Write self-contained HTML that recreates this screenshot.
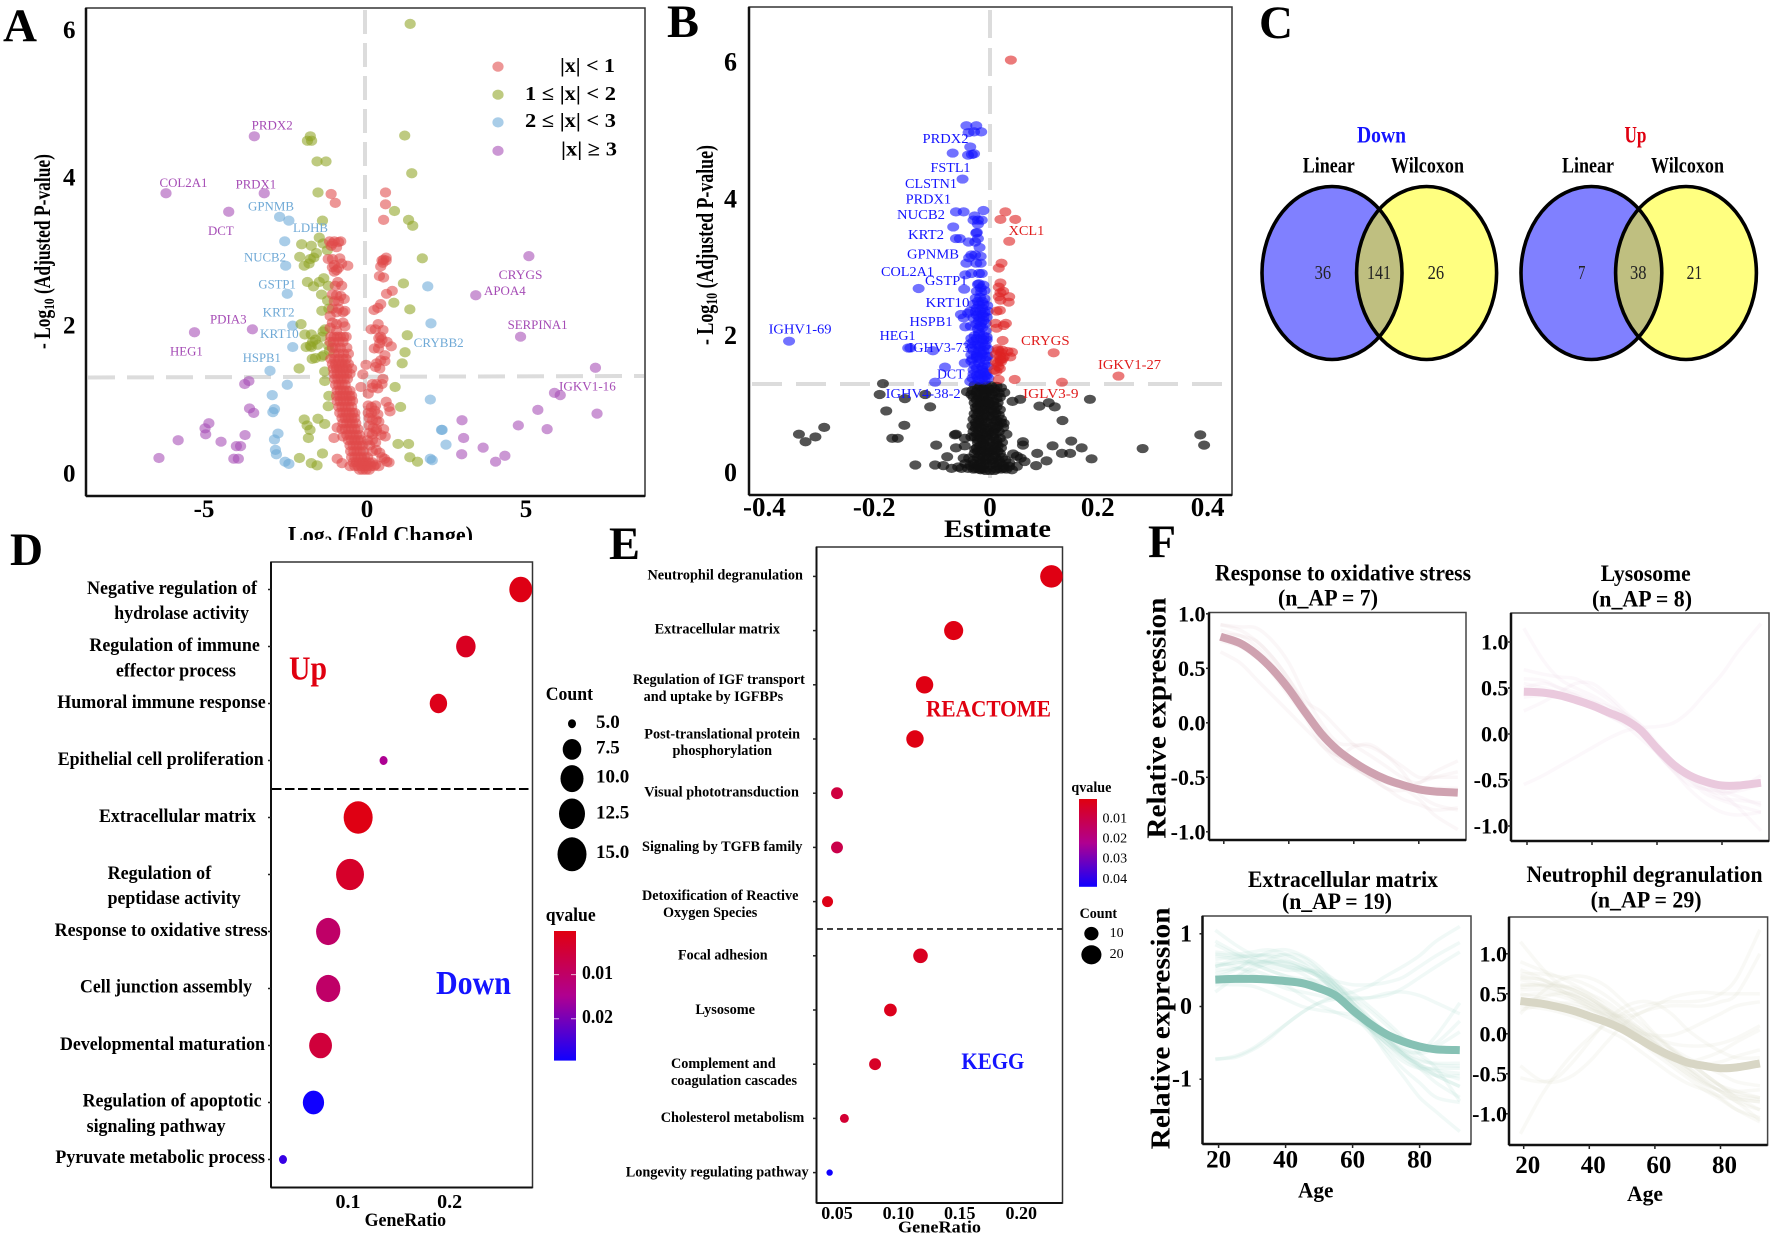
<!DOCTYPE html>
<html lang="en">
<head>
<meta charset="utf-8">
<title>Proteomic ageing figure panels A-F</title>
<style>
html,body{margin:0;padding:0;background:#fff;}
svg{display:block;}
text{font-family:"Liberation Serif","Noto Serif CJK SC",serif;fill:#000;}
.b{font-weight:700;}
.letter{font-weight:700;font-size:47px;}
.ga{font-size:12.5px;}
.gb{font-size:13.5px;}
.pu{fill:#a54bb5;}
.lb{fill:#6fa9d6;}
.bl{fill:#1414ff;}
.rd{fill:#e01b1b;}
.dl{font-weight:700;font-size:19px;}
.el{font-weight:700;font-size:14.5px;}
.ft{font-weight:700;font-size:23px;}
</style>
</head>
<body>
<svg id="figure" xmlns="http://www.w3.org/2000/svg" width="1772" height="1236" viewBox="0 0 1772 1236">
<defs>
<clipPath id="clip-log2"><rect x="270" y="515" width="220" height="25"/></clipPath>
<clipPath id="clip-v1"><ellipse cx="1332" cy="273" rx="70" ry="86.5"/></clipPath>
<clipPath id="clip-v2"><ellipse cx="1591.4" cy="273" rx="70.4" ry="86.5"/></clipPath>
<linearGradient id="grad-d" x1="0" y1="0" x2="0" y2="1"><stop offset="0" stop-color="#e00010"/><stop offset=".5" stop-color="#b00090"/><stop offset="1" stop-color="#1000ff"/></linearGradient>
<linearGradient id="grad-e" x1="0" y1="0" x2="0" y2="1"><stop offset="0" stop-color="#e00010"/><stop offset=".5" stop-color="#b00090"/><stop offset="1" stop-color="#1000ff"/></linearGradient>
</defs>
<rect x="0" y="0" width="1772" height="1236" fill="#fff"/>

<g>
<text class="letter" x="3" y="41" textLength="34" lengthAdjust="spacingAndGlyphs">A</text>
<text class="letter" x="667" y="37" textLength="32" lengthAdjust="spacingAndGlyphs">B</text>
<text class="letter" x="1259" y="38" textLength="34" lengthAdjust="spacingAndGlyphs">C</text>
<text class="letter" x="10" y="565" textLength="33" lengthAdjust="spacingAndGlyphs">D</text>
<text class="letter" x="609" y="559" textLength="31" lengthAdjust="spacingAndGlyphs">E</text>
<text class="letter" x="1148" y="557" textLength="28" lengthAdjust="spacingAndGlyphs">F</text>
</g>

<!-- Panel A -->
<g id="panel-a">
<rect x="86" y="8" width="559" height="488" fill="none" stroke="#333" stroke-width="1.5"/>
<line x1="86" y1="8" x2="86" y2="496" stroke="#111" stroke-width="2.5"/>
<line x1="86" y1="496" x2="645" y2="496" stroke="#111" stroke-width="2.5"/>
<line x1="365" y1="10" x2="365" y2="470" stroke="#dcdcdc" stroke-width="4" stroke-dasharray="24 9"/>
<line x1="88" y1="377.5" x2="644" y2="376" stroke="#dcdcdc" stroke-width="4" stroke-dasharray="27 12"/>
<g id="a-points"></g>
<g id="a-ticks"></g>
<text class="b" x="0" y="0" font-size="23" transform="translate(50 349) rotate(-90)" textLength="195" lengthAdjust="spacingAndGlyphs">- Log<tspan font-size="15" dy="4">10</tspan><tspan dy="-4"> (Adjusted P-value)</tspan></text>
<g clip-path="url(#clip-log2)">
<text class="b" x="288" y="543" font-size="24" textLength="185" lengthAdjust="spacingAndGlyphs">Log<tspan font-size="16" dy="4">2</tspan><tspan dy="-4"> (Fold Change)</tspan></text>
</g>
<ellipse cx="498" cy="66.6" rx="5.6" ry="5.1" fill="#e04a4a" fill-opacity=".58"/>
<ellipse cx="498" cy="94.7" rx="5.6" ry="5.1" fill="#8fa424" fill-opacity=".58"/>
<ellipse cx="498" cy="122.4" rx="5.6" ry="5.1" fill="#6aa8d8" fill-opacity=".58"/>
<ellipse cx="498" cy="150.8" rx="5.6" ry="5.1" fill="#a54bb5" fill-opacity=".58"/>
<text class="b" x="560" y="72" font-size="20" textLength="55" lengthAdjust="spacingAndGlyphs">|x| &lt; 1</text>
<text class="b" x="525" y="100" font-size="20" textLength="91" lengthAdjust="spacingAndGlyphs">1 ≤ |x| &lt; 2</text>
<text class="b" x="525" y="127" font-size="20" textLength="91" lengthAdjust="spacingAndGlyphs">2 ≤ |x| &lt; 3</text>
<text class="b" x="561" y="155.7" font-size="20" textLength="56" lengthAdjust="spacingAndGlyphs">|x| ≥ 3</text>
<g>
<text class="ga pu" x="251.7" y="129.4" textLength="41" lengthAdjust="spacingAndGlyphs">PRDX2</text>
<text class="ga pu" x="159.5" y="187" textLength="48" lengthAdjust="spacingAndGlyphs">COL2A1</text>
<text class="ga pu" x="235.7" y="188.4" textLength="40.4" lengthAdjust="spacingAndGlyphs">PRDX1</text>
<text class="ga pu" x="208" y="235" textLength="25.7" lengthAdjust="spacingAndGlyphs">DCT</text>
<text class="ga pu" x="170" y="355.7" textLength="32.8" lengthAdjust="spacingAndGlyphs">HEG1</text>
<text class="ga pu" x="210" y="323.4" textLength="36.6" lengthAdjust="spacingAndGlyphs">PDIA3</text>
<text class="ga pu" x="498.7" y="279" textLength="43.8" lengthAdjust="spacingAndGlyphs">CRYGS</text>
<text class="ga pu" x="484" y="295" textLength="41.7" lengthAdjust="spacingAndGlyphs">APOA4</text>
<text class="ga pu" x="507.6" y="329" textLength="60" lengthAdjust="spacingAndGlyphs">SERPINA1</text>
<text class="ga pu" x="559" y="390.7" textLength="56.8" lengthAdjust="spacingAndGlyphs">IGKV1-16</text>
<text class="ga lb" x="248" y="210.5" textLength="46" lengthAdjust="spacingAndGlyphs">GPNMB</text>
<text class="ga lb" x="293" y="232" textLength="35" lengthAdjust="spacingAndGlyphs">LDHB</text>
<text class="ga lb" x="244" y="261.7" textLength="42" lengthAdjust="spacingAndGlyphs">NUCB2</text>
<text class="ga lb" x="258.4" y="288.7" textLength="37.5" lengthAdjust="spacingAndGlyphs">GSTP1</text>
<text class="ga lb" x="262.6" y="316.4" textLength="32" lengthAdjust="spacingAndGlyphs">KRT2</text>
<text class="ga lb" x="260" y="337.8" textLength="38.7" lengthAdjust="spacingAndGlyphs">KRT10</text>
<text class="ga lb" x="242.8" y="362" textLength="38" lengthAdjust="spacingAndGlyphs">HSPB1</text>
<text class="ga lb" x="413.7" y="347" textLength="50" lengthAdjust="spacingAndGlyphs">CRYBB2</text>
</g>
</g>

<!-- Panel B -->
<g id="panel-b">
<rect x="749" y="7" width="483" height="488" fill="none" stroke="#333" stroke-width="1.5"/>
<line x1="749" y1="7" x2="749" y2="495" stroke="#111" stroke-width="2.5"/>
<line x1="749" y1="495" x2="1232" y2="495" stroke="#111" stroke-width="2.5"/>
<line x1="990" y1="10" x2="990" y2="478" stroke="#dcdcdc" stroke-width="4" stroke-dasharray="28 10"/>
<line x1="752" y1="384" x2="1222" y2="384" stroke="#dcdcdc" stroke-width="4" stroke-dasharray="30 14"/>
<g id="b-points"></g>
<g id="b-ticks"></g>
<text class="b" x="0" y="0" font-size="24" transform="translate(713 345) rotate(-90)" textLength="200" lengthAdjust="spacingAndGlyphs">- Log<tspan font-size="16" dy="4">10</tspan><tspan dy="-4"> (Adjusted P-value)</tspan></text>
<text class="b" x="944" y="537" font-size="25" textLength="107" lengthAdjust="spacingAndGlyphs">Estimate</text>
<g>
<text class="gb bl" x="922.5" y="143" textLength="46" lengthAdjust="spacingAndGlyphs">PRDX2</text>
<text class="gb bl" x="930.5" y="172" textLength="40" lengthAdjust="spacingAndGlyphs">FSTL1</text>
<text class="gb bl" x="905" y="188" textLength="52" lengthAdjust="spacingAndGlyphs">CLSTN1</text>
<text class="gb bl" x="905.6" y="203.4" textLength="45.5" lengthAdjust="spacingAndGlyphs">PRDX1</text>
<text class="gb bl" x="897" y="219" textLength="48" lengthAdjust="spacingAndGlyphs">NUCB2</text>
<text class="gb bl" x="908" y="239" textLength="36" lengthAdjust="spacingAndGlyphs">KRT2</text>
<text class="gb bl" x="907" y="258.5" textLength="52" lengthAdjust="spacingAndGlyphs">GPNMB</text>
<text class="gb bl" x="881" y="276" textLength="53" lengthAdjust="spacingAndGlyphs">COL2A1</text>
<text class="gb bl" x="925" y="285" textLength="42.5" lengthAdjust="spacingAndGlyphs">GSTP1</text>
<text class="gb bl" x="925.5" y="307" textLength="44" lengthAdjust="spacingAndGlyphs">KRT10</text>
<text class="gb bl" x="909.5" y="326" textLength="43" lengthAdjust="spacingAndGlyphs">HSPB1</text>
<text class="gb bl" x="879.6" y="340" textLength="36" lengthAdjust="spacingAndGlyphs">HEG1</text>
<text class="gb bl" x="908.7" y="352" textLength="61" lengthAdjust="spacingAndGlyphs">IGHV3-73</text>
<text class="gb bl" x="937" y="378.5" textLength="27.5" lengthAdjust="spacingAndGlyphs">DCT</text>
<text class="gb bl" x="885.7" y="398" textLength="75" lengthAdjust="spacingAndGlyphs">IGHV4-38-2</text>
<text class="gb bl" x="768.6" y="333.6" textLength="63" lengthAdjust="spacingAndGlyphs">IGHV1-69</text>
<text class="gb rd" x="1008.6" y="235" textLength="35.6" lengthAdjust="spacingAndGlyphs">XCL1</text>
<text class="gb rd" x="1021" y="345" textLength="48.6" lengthAdjust="spacingAndGlyphs">CRYGS</text>
<text class="gb rd" x="1098" y="369" textLength="63" lengthAdjust="spacingAndGlyphs">IGKV1-27</text>
<text class="gb rd" x="1023" y="398" textLength="55.5" lengthAdjust="spacingAndGlyphs">IGLV3-9</text>
</g>
</g>

<!-- Panel C -->
<g id="panel-c">
<ellipse cx="1332" cy="273" rx="70" ry="86.5" fill="#8080ff"/>
<ellipse cx="1426.6" cy="273" rx="70" ry="86.5" fill="#ffff80"/>
<ellipse cx="1426.6" cy="273" rx="70" ry="86.5" fill="#bfbf80" clip-path="url(#clip-v1)"/>
<ellipse cx="1332" cy="273" rx="70" ry="86.5" fill="none" stroke="#000" stroke-width="3.6"/>
<ellipse cx="1426.6" cy="273" rx="70" ry="86.5" fill="none" stroke="#000" stroke-width="3.6"/>
<ellipse cx="1591.4" cy="273" rx="70.4" ry="86.5" fill="#8080ff"/>
<ellipse cx="1686" cy="273" rx="70.4" ry="86.5" fill="#ffff80"/>
<ellipse cx="1686" cy="273" rx="70.4" ry="86.5" fill="#bfbf80" clip-path="url(#clip-v2)"/>
<ellipse cx="1591.4" cy="273" rx="70.4" ry="86.5" fill="none" stroke="#000" stroke-width="3.6"/>
<ellipse cx="1686" cy="273" rx="70.4" ry="86.5" fill="none" stroke="#000" stroke-width="3.6"/>
<text class="b" x="1357" y="142.5" font-size="23" textLength="49" lengthAdjust="spacingAndGlyphs" style="fill:#1414ff">Down</text>
<text class="b" x="1624.5" y="142.5" font-size="23" textLength="22" lengthAdjust="spacingAndGlyphs" style="fill:#e00010">Up</text>
<text class="b" x="1302.8" y="172.5" font-size="22" textLength="52" lengthAdjust="spacingAndGlyphs">Linear</text>
<text class="b" x="1391" y="172.5" font-size="22" textLength="73" lengthAdjust="spacingAndGlyphs">Wilcoxon</text>
<text class="b" x="1562" y="172.5" font-size="22" textLength="52" lengthAdjust="spacingAndGlyphs">Linear</text>
<text class="b" x="1651" y="172.5" font-size="22" textLength="73" lengthAdjust="spacingAndGlyphs">Wilcoxon</text>
<text x="1314.6" y="279" font-size="20" textLength="16.5" lengthAdjust="spacingAndGlyphs" style="fill:#222">36</text>
<text x="1367" y="279" font-size="20" textLength="24" lengthAdjust="spacingAndGlyphs" style="fill:#222">141</text>
<text x="1427.6" y="279" font-size="20" textLength="16.5" lengthAdjust="spacingAndGlyphs" style="fill:#222">26</text>
<text x="1578" y="279" font-size="20" textLength="7.4" lengthAdjust="spacingAndGlyphs" style="fill:#222">7</text>
<text x="1630" y="279" font-size="20" textLength="16.5" lengthAdjust="spacingAndGlyphs" style="fill:#222">38</text>
<text x="1686.6" y="279" font-size="20" textLength="15.5" lengthAdjust="spacingAndGlyphs" style="fill:#222">21</text>
</g>

<!-- Panel D -->
<g id="panel-d">
<rect x="271" y="562" width="261.5" height="625.5" fill="none" stroke="#333" stroke-width="1.5"/>
<line x1="271" y1="562" x2="271" y2="1187.5" stroke="#111" stroke-width="2"/>
<line x1="271" y1="1187.5" x2="532.5" y2="1187.5" stroke="#111" stroke-width="2"/>
<line x1="272" y1="789" x2="530" y2="789" stroke="#000" stroke-width="2" stroke-dasharray="9.5 3.5"/>
<g id="d-marks"></g>
<g>
<text class="dl" x="87" y="594" textLength="170" lengthAdjust="spacingAndGlyphs">Negative regulation of</text>
<text class="dl" x="114.3" y="619" textLength="134.8" lengthAdjust="spacingAndGlyphs">hydrolase activity</text>
<text class="dl" x="89.4" y="651" textLength="170.4" lengthAdjust="spacingAndGlyphs">Regulation of immune</text>
<text class="dl" x="115.9" y="676.4" textLength="120" lengthAdjust="spacingAndGlyphs">effector process</text>
<text class="dl" x="57.3" y="708" textLength="208.4" lengthAdjust="spacingAndGlyphs">Humoral immune response</text>
<text class="dl" x="57.7" y="765" textLength="206" lengthAdjust="spacingAndGlyphs">Epithelial cell proliferation</text>
<text class="dl" x="99" y="822" textLength="157" lengthAdjust="spacingAndGlyphs">Extracellular matrix</text>
<text class="dl" x="107.6" y="879" textLength="103.6" lengthAdjust="spacingAndGlyphs">Regulation of</text>
<text class="dl" x="107.6" y="904" textLength="133" lengthAdjust="spacingAndGlyphs">peptidase activity</text>
<text class="dl" x="54.6" y="936" textLength="213" lengthAdjust="spacingAndGlyphs">Response to oxidative stress</text>
<text class="dl" x="80" y="992.6" textLength="172" lengthAdjust="spacingAndGlyphs">Cell junction assembly</text>
<text class="dl" x="60" y="1050" textLength="205" lengthAdjust="spacingAndGlyphs">Developmental maturation</text>
<text class="dl" x="82.6" y="1106.6" textLength="179" lengthAdjust="spacingAndGlyphs">Regulation of apoptotic</text>
<text class="dl" x="86.6" y="1131.8" textLength="139" lengthAdjust="spacingAndGlyphs">signaling pathway</text>
<text class="dl" x="55.4" y="1163" textLength="209.6" lengthAdjust="spacingAndGlyphs">Pyruvate metabolic process</text>
</g>
<text class="b" x="364.6" y="1226" font-size="19" textLength="81.5" lengthAdjust="spacingAndGlyphs">GeneRatio</text>
<text class="b" x="289" y="679.5" font-size="34" textLength="38" lengthAdjust="spacingAndGlyphs" style="fill:#e00010">Up</text>
<text class="b" x="436" y="994" font-size="34" textLength="75" lengthAdjust="spacingAndGlyphs" style="fill:#1414ff">Down</text>
<text class="b" x="545.7" y="700" font-size="19" textLength="47.3" lengthAdjust="spacingAndGlyphs">Count</text>
<ellipse cx="572" cy="723.7" rx="4" ry="4.5" fill="#000"/>
<ellipse cx="572" cy="749.4" rx="9.3" ry="10.4" fill="#000"/>
<ellipse cx="572" cy="778.6" rx="11.5" ry="13.5" fill="#000"/>
<ellipse cx="572" cy="813.8" rx="13" ry="15.3" fill="#000"/>
<ellipse cx="572" cy="854.3" rx="14.5" ry="17" fill="#000"/>
<text class="b" x="596" y="728" font-size="19">5.0</text>
<text class="b" x="596" y="753.5" font-size="19">7.5</text>
<text class="b" x="596" y="782.5" font-size="19">10.0</text>
<text class="b" x="596" y="818.5" font-size="19">12.5</text>
<text class="b" x="596" y="858" font-size="19">15.0</text>
<text class="b" x="545.7" y="921" font-size="19" textLength="50" lengthAdjust="spacingAndGlyphs">qvalue</text>
<rect x="554" y="931" width="22" height="129.6" fill="url(#grad-d)"/>
<line x1="554" y1="974.6" x2="576" y2="974.6" stroke="#fff" stroke-opacity=".7" stroke-dasharray="5 12"/>
<line x1="554" y1="1018.7" x2="576" y2="1018.7" stroke="#fff" stroke-opacity=".7" stroke-dasharray="5 12"/>
<text class="b" x="582" y="979" font-size="20" textLength="31" lengthAdjust="spacingAndGlyphs">0.01</text>
<text class="b" x="582" y="1023" font-size="20" textLength="31" lengthAdjust="spacingAndGlyphs">0.02</text>
</g>

<!-- Panel E -->
<g id="panel-e">
<rect x="816.5" y="547" width="246" height="656" fill="none" stroke="#333" stroke-width="1.5"/>
<line x1="816.5" y1="547" x2="816.5" y2="1203" stroke="#111" stroke-width="2"/>
<line x1="816.5" y1="1203" x2="1062.5" y2="1203" stroke="#111" stroke-width="2"/>
<line x1="817" y1="929" x2="1062" y2="929" stroke="#000" stroke-width="1.5" stroke-dasharray="6 4"/>
<g id="e-marks"></g>
<g>
<text class="el" x="647.5" y="579.5" textLength="155.4" lengthAdjust="spacingAndGlyphs">Neutrophil degranulation</text>
<text class="el" x="654.6" y="633.6" textLength="125.4" lengthAdjust="spacingAndGlyphs">Extracellular matrix</text>
<text class="el" x="632.9" y="684" textLength="172" lengthAdjust="spacingAndGlyphs">Regulation of IGF transport</text>
<text class="el" x="643.6" y="701" textLength="139.6" lengthAdjust="spacingAndGlyphs">and uptake by IGFBPs</text>
<text class="el" x="644.3" y="738.6" textLength="155.7" lengthAdjust="spacingAndGlyphs">Post-translational protein</text>
<text class="el" x="672.5" y="755" textLength="99.6" lengthAdjust="spacingAndGlyphs">phosphorylation</text>
<text class="el" x="644.3" y="796.7" textLength="154.6" lengthAdjust="spacingAndGlyphs">Visual phototransduction</text>
<text class="el" x="642" y="851" textLength="160.4" lengthAdjust="spacingAndGlyphs">Signaling by TGFB family</text>
<text class="el" x="642" y="900" textLength="156.4" lengthAdjust="spacingAndGlyphs">Detoxification of Reactive</text>
<text class="el" x="663" y="917" textLength="94.3" lengthAdjust="spacingAndGlyphs">Oxygen Species</text>
<text class="el" x="678" y="959.3" textLength="89.6" lengthAdjust="spacingAndGlyphs">Focal adhesion</text>
<text class="el" x="695.4" y="1013.8" textLength="59.6" lengthAdjust="spacingAndGlyphs">Lysosome</text>
<text class="el" x="671" y="1068" textLength="104.6" lengthAdjust="spacingAndGlyphs">Complement and</text>
<text class="el" x="671" y="1085" textLength="126" lengthAdjust="spacingAndGlyphs">coagulation cascades</text>
<text class="el" x="660.7" y="1122" textLength="143.6" lengthAdjust="spacingAndGlyphs">Cholesterol metabolism</text>
<text class="el" x="625.7" y="1176.4" textLength="182.9" lengthAdjust="spacingAndGlyphs">Longevity regulating pathway</text>
</g>
<text class="b" x="898" y="1232.7" font-size="17" textLength="83" lengthAdjust="spacingAndGlyphs">GeneRatio</text>
<text class="b" x="926" y="716.5" font-size="23" textLength="125" lengthAdjust="spacingAndGlyphs" style="fill:#e00010">REACTOME</text>
<text class="b" x="961.4" y="1069" font-size="23" textLength="63" lengthAdjust="spacingAndGlyphs" style="fill:#1414ff">KEGG</text>
<text class="b" x="1071.4" y="792" font-size="15" textLength="40" lengthAdjust="spacingAndGlyphs">qvalue</text>
<rect x="1079" y="799" width="18" height="87.8" fill="url(#grad-e)"/>
<text x="1102.5" y="822.5" font-size="14" textLength="24.6" lengthAdjust="spacingAndGlyphs">0.01</text>
<text x="1102.5" y="842.5" font-size="14" textLength="24.6" lengthAdjust="spacingAndGlyphs">0.02</text>
<text x="1102.5" y="862.5" font-size="14" textLength="24.6" lengthAdjust="spacingAndGlyphs">0.03</text>
<text x="1102.5" y="883" font-size="14" textLength="24.6" lengthAdjust="spacingAndGlyphs">0.04</text>
<text class="b" x="1079.6" y="918" font-size="15" textLength="37.5" lengthAdjust="spacingAndGlyphs">Count</text>
</g>

<!-- Panel F -->
<g id="panel-f">
<g id="f-plots"></g>
<text class="ft" x="1215" y="580.5" textLength="256" lengthAdjust="spacingAndGlyphs">Response to oxidative stress</text>
<text class="ft" x="1278" y="605.7" textLength="100" lengthAdjust="spacingAndGlyphs">(n_AP = 7)</text>
<text class="ft" x="1600.7" y="581" textLength="90" lengthAdjust="spacingAndGlyphs">Lysosome</text>
<text class="ft" x="1592" y="606.6" textLength="100" lengthAdjust="spacingAndGlyphs">(n_AP = 8)</text>
<text class="ft" x="1248" y="887" textLength="190" lengthAdjust="spacingAndGlyphs">Extracellular matrix</text>
<text class="ft" x="1282" y="909" textLength="110" lengthAdjust="spacingAndGlyphs">(n_AP = 19)</text>
<text class="ft" x="1526.5" y="882" textLength="236" lengthAdjust="spacingAndGlyphs">Neutrophil degranulation</text>
<text class="ft" x="1590.6" y="907.5" textLength="111" lengthAdjust="spacingAndGlyphs">(n_AP = 29)</text>
<text class="b" x="0" y="0" font-size="27" transform="translate(1165.4 838.6) rotate(-90)" textLength="241" lengthAdjust="spacingAndGlyphs">Relative expression</text>
<text class="b" x="0" y="0" font-size="27" transform="translate(1169.4 1149.4) rotate(-90)" textLength="242" lengthAdjust="spacingAndGlyphs">Relative expression</text>
<text class="b" x="1298" y="1197.6" font-size="22" textLength="35.5" lengthAdjust="spacingAndGlyphs">Age</text>
<text class="b" x="1627" y="1201" font-size="22" textLength="36" lengthAdjust="spacingAndGlyphs">Age</text>
</g>
</svg>

<script>
/* ---------- Panel A data: [log2 fold change, -log10 adjusted p] ---------- */
const aPurple=[[-3.49,4.56],[-6.25,3.79],[-3.18,3.79],[-4.29,3.54],[-5.36,1.91],[-3.55,1.95],[5.09,2.94],[3.43,2.41],[4.83,1.85],[7.17,1.43],[5.89,1.09],[6.07,1.06],[5.37,.86],[7.22,.81],[4.76,.65],[5.66,.6],[3.0,.72],[3.05,.48],[3.66,.35],[2.99,.26],[4.05,.16],[4.34,.24],[-3.66,1.25],[-3.79,1.21],[-3.64,.88],[-3.51,.82],[-4.91,.68],[-5.03,.61],[-5.01,.53],[-5.87,.45],[-4.53,.43],[-3.78,.52],[-3.92,.37],[-4.05,.37],[-6.47,.21],[-4.13,.2],[-3.99,.2]];
const aBlue=[[-2.7,3.47],[-2.41,3.42],[-2.54,3.14],[-2.51,2.81],[-2.46,2.43],[-2.29,2.0],[-2.29,1.71],[-3.0,1.39],[-2.46,1.2],[-2.93,1.06],[-2.86,.87],[-2.91,.83],[-2.75,.54],[-2.86,.46],[-2.83,.32],[-2.8,.26],[-2.53,.16],[-2.41,.13],[1.93,2.53],[2.03,2.03],[2.01,1.0],[2.36,.59],[2.38,.59],[2.5,.39],[2.01,.2],[2.07,.18]];
const aOlive=[[1.38,6.08],[-1.74,4.56],[-1.83,4.5],[-1.7,4.5],[1.21,4.57],[-1.53,4.22],[-1.25,4.22],[1.43,4.06],[-1.5,3.8],[.89,3.55],[1.33,3.43],[1.46,3.35],[-1.36,3.42],[-1.46,3.19],[-2.01,3.1],[-1.71,3.08],[-1.34,3.11],[-1.21,3.02],[-1.55,2.98],[-2.07,2.93],[-1.63,2.92],[-1.74,2.9],[-1.78,2.84],[-1.93,2.81],[1.76,2.91],[-1.83,2.59],[-1.32,2.64],[-1.46,2.59],[-1.64,2.53],[-1.18,2.54],[-1.39,2.42],[-1.2,2.34],[1.17,2.57],[.87,2.31],[1.37,2.22],[-1.38,2.2],[-1.16,2.23],[-2.03,2.02],[-1.28,1.95],[-1.34,1.92],[-1.91,1.88],[-1.71,1.88],[-1.38,1.85],[-1.58,1.81],[-1.67,1.78],[-1.74,1.73],[-1.51,1.74],[-1.87,1.71],[-1.71,1.71],[-1.17,1.73],[-1.14,1.66],[-1.32,1.6],[-1.68,1.55],[-1.58,1.56],[-1.38,1.58],[1.29,1.87],[1.22,1.64],[1.13,1.49],[-2.09,1.42],[-1.29,1.38],[-1.29,1.25],[.91,1.17],[-1.16,1.05],[-1.18,.91],[1.08,.9],[-1.93,.73],[-1.5,.74],[-1.84,.65],[-1.29,.67],[-1.75,.59],[-1.8,.48],[1.0,.4],[1.33,.4],[-1.36,.27],[-2.08,.21],[1.37,.22],[1.61,.16],[-1.71,.14],[-1.53,.11]];
const aRed=[[-1.09,3.78],[-.96,3.66],[.61,3.8],[.61,3.64],[.55,3.43],[-1.14,3.14],[-.99,3.14],[-.79,3.14],[-1.09,3.08],[-.92,3.06],[-1.05,3.11],[-.86,3.13],[-1.18,2.9],[-1.05,2.9],[-.82,2.91],[-.99,2.82],[-.76,2.84],[-.57,2.81],[-1.05,2.79],[-.92,2.75],[-.99,2.73],[-.86,2.78],[-.88,2.59],[-.76,2.54],[-.96,2.54],[-1.05,2.42],[-.92,2.41],[-.79,2.4],[-.68,2.36],[-.99,2.33],[-.86,2.33],[-1.05,2.23],[-.86,2.23],[-.66,2.2],[-.72,2.18],[-.92,2.18],[-1.12,2.13],[-1.05,2.04],[-.92,2.02],[-.72,2.04],[-1.12,1.97],[-.92,1.93],[-.66,1.99],
[-1.1,1.85],[-1.0,1.85],[-.9,1.85],[-.8,1.85],[-.7,1.85],[-.62,1.85],[-1.12,1.78],[-1.02,1.78],[-.85,1.78],[-.72,1.78],[-1.05,1.7],[-.95,1.7],[-.8,1.7],[-.6,1.7],[-1.0,1.62],[-.85,1.62],[-.7,1.62],[-.55,1.62],[-1.1,1.55],[-.98,1.55],[-.85,1.55],[-.72,1.55],[-.62,1.55],[-1.05,1.48],[-.95,1.48],[-.85,1.48],[-.75,1.48],[-.65,1.48],[-.55,1.48],[-1.02,1.42],[-.92,1.42],[-.82,1.42],[-.72,1.42],[-.6,1.42],[-.45,1.42],[-1.0,1.35],[-.9,1.35],[-.8,1.35],[-.7,1.35],[-.6,1.35],[-.5,1.35],[-.98,1.28],[-.88,1.28],[-.78,1.28],[-.68,1.28],[-.58,1.28],[-.95,1.2],[-.85,1.2],[-.75,1.2],[-.65,1.2],[-.9,1.12],[-.8,1.12],[-.7,1.12],[-.6,1.12],[-.5,1.12],[-.92,1.05],[-.82,1.05],[-.72,1.05],[-.62,1.05],[-.52,1.05],[-.45,1.05],[-.9,.98],[-.8,.98],[-.7,.98],[-.6,.98],[-.5,.98],[-.42,.98],[-.85,.9],[-.75,.9],[-.65,.9],[-.55,.9],[-.45,.9],[-.82,.82],[-.72,.82],[-.62,.82],[-.52,.82],[-.42,.82],[-.35,.82],[-.75,.75],[-.65,.75],[-.55,.75],[-.45,.75],[-.35,.75],[-.72,.68],[-.6,.68],[-.5,.68],[-.42,.68],[-.32,.68],[-.65,.6],[-.55,.6],[-.45,.6],[-.35,.6],[-.25,.6],[-.6,.52],[-.5,.52],[-.4,.52],[-.3,.52],[-.2,.52],[-.55,.45],[-.45,.45],[-.35,.45],[-.25,.45],[-.15,.45],[-.5,.38],[-.4,.38],[-.3,.38],[-.2,.38],[-.1,.38],[-.48,.3],[-.38,.3],[-.28,.3],[-.18,.3],[-.08,.3],[-.45,.22],[-.35,.22],[-.25,.22],[-.15,.22],[-.05,.22],[.05,.22],[-.4,.15],[-.3,.15],[-.2,.15],[-.1,.15],[0,.15],[.1,.15],[.2,.15],[-.5,.1],[-.35,.1],[-.25,.1],[-.15,.1],[-.05,.1],[.05,.1],[.15,.1],[.25,.1],[-.2,.05],[-.1,.05],[0,.05],[.1,.05],
[.63,2.92],[.55,2.89],[.5,2.88],[.63,2.88],[.46,2.8],[.53,2.85],[.42,2.67],[.55,2.65],[.64,2.43],[.82,2.47],[.46,2.29],[.37,2.24],[.25,2.21],[.38,2.02],[.16,1.95],[.29,1.95],[.53,1.94],[.46,1.85],[.4,1.83],[.5,1.81],[.43,1.76],[.66,1.78],[.26,1.69],[.79,1.72],[.39,1.69],[.59,1.6],[.46,1.53],[.33,1.49],[.59,1.52],[.43,1.42],[.3,1.44],[0,1.47],[-.1,1.34],[.53,1.28],[.2,1.21],[.33,1.21],[.5,1.21],[-.16,1.17],[.2,1.16],[.37,1.15],[.07,1.08],[.63,.97],[.72,.9],[.75,.84],[.07,.92],[.17,.9],[.3,.92],[.07,.82],[.17,.82],[.27,.85],[.37,.8],[.1,.75],[.2,.72],[.32,.72],[.4,.7],[.1,.65],[.22,.62],[.33,.6],[.1,.55],[.2,.53],[.32,.57],[.55,.6],[.47,.52],[.2,.45],[.05,.45],[.3,.42],[.6,.5],[.12,.38],[.2,.3],[.32,.32],[.43,.28],[.5,.22],[.58,.2],[.65,.16],[.72,.15],[.3,.12],[.4,.1],[-.9,.2],[-.75,.14],[-.9,.62],[-.75,.6],[-1.0,.48],[-.72,.5]];
const aXTicks=[-5,0,5];
const aYTicks=[0,2,4,6];

/* ---------- Panel B data: [estimate, -log10 adjusted p] ---------- */
const bRed=[[.038,6.03],[.028,3.81],[.019,3.7],[.046,3.7],[.035,3.38],[.021,3.06],[.016,2.99],[.019,2.77],[.016,2.71],[.024,2.65],[.019,2.63],[.035,2.57],[.016,2.57],[.019,2.52],[.034,2.49],[.018,2.37],[.012,2.36],[.029,2.18],[.010,2.18],[.025,2.15],[.012,2.11],[.023,1.93],[.014,1.81],[.022,1.79],[.032,1.77],[.040,1.76],[.116,1.75],[.011,1.73],[.018,1.7],[.025,1.69],[.037,1.69],[.019,1.65],[.011,1.61],[.018,1.52],[.012,1.48],[.045,1.36],[.016,1.36],[.131,1.32],[.234,1.41],[.02,1.75],[.015,1.78],[.023,1.66],[.014,1.6],[.02,1.62],[.008,1.5],[.015,1.55]];
const bBlue=[[-.366,1.92],[-.043,5.07],[-.025,5.07],[-.039,4.97],[-.029,4.98],[-.016,4.98],[-.036,4.76],[-.068,4.67],[-.04,4.64],[-.033,4.65],[-.029,4.66],[-.05,4.29],[-.062,3.81],[-.048,3.81],[-.012,3.83],[-.028,3.75],[-.03,3.69],[-.022,3.69],[-.015,3.69],[-.022,3.63],[-.067,3.59],[-.024,3.51],[-.025,3.5],[-.062,3.42],[-.055,3.42],[-.039,3.37],[-.027,3.37],[-.022,3.42],[-.019,3.29],[-.034,3.18],[-.027,3.18],[-.017,3.16],[-.038,3.14],[-.043,3.06],[-.025,3.06],[-.017,3.06],[-.045,2.89],[-.034,2.91],[-.02,2.91],[-.015,2.91],[-.13,2.69],[-.047,2.68],[-.022,2.75],[-.017,2.7],
[-.02,2.76],[-.012,2.74],[-.024,2.65],[-.016,2.64],[-.01,2.66],[-.026,2.55],[-.018,2.56],[-.01,2.54],[-.03,2.46],[-.02,2.45],[-.012,2.46],[-.005,2.44],[-.036,2.36],[-.026,2.35],[-.018,2.36],[-.01,2.34],[-.004,2.36],[-.053,2.31],[-.048,2.26],[-.04,2.33],[-.03,2.26],[-.02,2.27],[-.012,2.28],[-.006,2.27],[-.045,2.13],[-.035,2.14],[-.025,2.17],[-.016,2.19],[-.008,2.18],[-.022,2.1],[-.014,2.12],[-.008,2.07],[-.149,1.82],[-.145,1.82],[-.104,1.78],[-.012,1.94],[-.03,1.92],[-.022,1.87],[-.006,1.94],[-.03,1.78],[-.012,1.78],[-.024,1.73],[-.006,1.69],[-.046,1.6],[-.034,1.63],[-.02,1.6],[-.01,1.58],[-.082,1.54],[-.03,1.5],[-.012,1.47],[-.024,1.42],[-.006,1.42],[-.1,1.32],[-.036,1.33],[-.02,1.35],[-.01,1.35],[-.028,2.0],[-.02,2.02],[-.012,2.0],[-.034,1.96],[-.024,1.96],[-.016,1.96],[-.006,1.98],[-.036,1.88],[-.028,1.86],[-.018,1.84],[-.008,1.86],[-.034,1.82],[-.02,1.78],[-.01,1.84],[-.003,1.8],[-.034,1.72],[-.024,1.68],[-.014,1.72],[-.004,1.7],[-.032,1.66],[-.018,1.66],[-.008,1.64],[-.028,1.57],[-.014,1.54],[-.004,1.55],[-.03,1.44],[-.018,1.44],[-.009,1.42],[-.032,1.38],[-.014,1.38],[-.003,1.38],[-.024,2.4],[-.014,2.4],[-.022,2.5],[-.014,2.5],[-.024,2.3],[-.014,2.31],[-.02,2.22],[-.012,2.22],[-.018,2.14],[-.02,2.05],[-.014,1.9],[-.024,1.7],[-.016,1.75],[-.024,1.52],[-.014,1.5],[-.008,1.46],[-.022,1.38]];
const bBlack=[[-.195,1.3],[-.201,1.14],[-.155,1.08],[-.118,1.14],[-.189,.9],[-.109,.96],[-.156,.69],[-.302,.66],[-.348,.56],[-.318,.52],[-.336,.45],[-.178,.5],[-.168,.5],[-.064,.55],[-.062,.56],[-.098,.4],[-.062,.36],[-.046,.5],[-.046,.39],[-.034,.52],[-.027,.34],[-.078,.23],[-.136,.11],[-.1,.11],[-.085,.1],[-.07,.06],[-.058,.08],[-.052,.06],[-.048,.21],[-.038,.21],[-.027,.06],[-.017,.04],[.026,1.17],[.041,1.04],[.055,1.07],[.09,.97],[.107,1.02],[.118,.96],[.182,1.07],[.132,.76],[.03,.56],[.06,.45],[.06,.4],[.114,.39],[.148,.46],[.167,.36],[.131,.28],[.146,.28],[.086,.28],[.103,.17],[.084,.1],[.185,.2],[.278,.35],[.383,.55],[.39,.4],[.042,.27],[.049,.24],[.056,.21],[.063,.16],[.049,.09],[.035,.09],[.025,.06],[-.042,1.18],[-.034,1.14],[.02,.73],[.025,.72],
[-.028,1.28],[-.018,1.26],[-.008,1.28],[.002,1.27],[.012,1.26],[.02,1.24],[-.032,1.2],[-.024,1.18],[-.014,1.2],[-.004,1.18],[.008,1.18],[.016,1.16],[-.03,1.1],[-.02,1.1],[-.012,1.12],[-.002,1.1],[.012,1.08],[.018,1.1],[-.028,1.02],[-.018,1.02],[-.008,1.03],[.014,1.02],[-.026,.95],[-.016,.94],[-.006,.96],[.012,.96],[.018,.92],[-.028,.86],[-.02,.88],[-.01,.86],[.01,.86],[.016,.84],[-.03,.78],[-.02,.76],[-.012,.78],[.002,.78],[.012,.76],[.02,.78],[-.032,.68],[-.024,.7],[-.012,.68],[.004,.68],[.014,.68],[.024,.66],[-.03,.6],[-.02,.62],[-.01,.58],[.006,.6],[.016,.6],[-.028,.52],[-.018,.5],[-.008,.52],[.006,.52],[.018,.5],[-.022,.44],[-.012,.42],[0,.44],[.012,.42],[.022,.44],[-.024,.36],[-.014,.34],[-.004,.36],[.01,.34],[.02,.36],[-.028,.28],[-.018,.26],[-.006,.28],[.008,.26],[.018,.28],[-.03,.18],[-.018,.18],[-.008,.18],[.004,.18],[.016,.18],[.028,.18],[-.036,.1],[-.024,.1],[-.012,.1],[0,.1],[.012,.1],[.024,.1],[-.008,.03],[0,.03],[.008,.03],[-.002,.9],[-.004,.62],[-.002,.3],
[-.022,1.22],[-.012,1.22],[-.002,1.22],[.008,1.22],[-.024,1.14],[-.008,1.14],[.004,1.14],[-.024,1.06],[-.014,1.06],[-.004,1.05],[.006,1.04],[-.022,.98],[-.012,.99],[-.002,1.0],[.006,.98],[-.024,.92],[-.012,.91],[.002,.92],[.008,.9],[-.024,.82],[-.014,.82],[-.004,.82],[.006,.82],[-.026,.73],[-.016,.73],[-.006,.73],[.008,.73],[-.026,.65],[-.016,.65],[-.006,.65],[.01,.64],[-.024,.56],[-.014,.56],[-.004,.56],[.01,.56],[-.022,.48],[-.012,.47],[-.002,.48],[.012,.47],[-.018,.39],[-.008,.39],[.006,.39],[.014,.39],[-.022,.31],[-.01,.31],[.002,.31],[.014,.31],[-.022,.22],[-.012,.22],[-.002,.22],[.01,.22],[.022,.22],[-.045,.13],[-.03,.13],[-.018,.13],[-.006,.14],[.006,.14],[.018,.14],[.035,.14],[-.04,.06],[-.03,.05],[-.02,.05],[-.012,.05],[.012,.05],[.02,.05],[.03,.05],[.04,.04]];
const bXTicks=[-.4,-.2,0,.2,.4];
const bYTicks=[0,2,4,6];

/* ---------- Panel D data ---------- */
const dCategories=["negative-regulation-hydrolase","immune-effector-process","humoral-immune-response","epithelial-cell-proliferation","extracellular-matrix","peptidase-activity","response-oxidative-stress","cell-junction-assembly","developmental-maturation","apoptotic-signaling","pyruvate-metabolic-process"];
const dRatio=[.27,.216,.189,.135,.11,.102,.0805,.0805,.073,.066,.036];
const dCount=[10,8,7,5,15,14,11,11,10,9,5];
const dQ=[.0005,.002,.001,.015,.0003,.003,.01,.01,.005,.0295,.026];
const dXTicks=[.1,.2];

/* ---------- Panel E data ---------- */
const eCategories=["neutrophil-degranulation","extracellular-matrix","igf-transport","protein-phosphorylation","visual-phototransduction","tgfb-signaling","detoxification-ros","focal-adhesion","lysosome","complement-coagulation","cholesterol-metabolism","longevity-pathway"];
const eRatio=[.2246,.145,.1213,.1135,.05,.05,.0423,.118,.0935,.081,.056,.044];
const eCount=[25,18,15,15,7,7,6,10.5,8,7,4,2];
const eQ=[.0005,.0005,.0005,.0005,.008,.01,.001,.003,.002,.004,.006,.0439];
const eXTicks=[.05,.10,.15,.20];
const eSizeLegend=[10,20];

/* ---------- Panel F data: values sampled at fAges ---------- */
const fAges=[19,25,30,35,40,45,50,55,60,65,70,75,80,85,92];
const fXTicks=[20,40,60,80];
const f1Main=[.79,.73,.63,.49,.31,.1,-.1,-.25,-.36,-.45,-.52,-.57,-.61,-.63,-.64];
const f1Faint=[
[.9,.88,.87,.75,.55,.25,0,-.18,-.2,-.22,-.3,-.4,-.5,-.5,-.5],
[.85,.8,.75,.6,.4,.2,.1,-.05,-.2,-.3,-.4,-.5,-.55,-.45,-.35],
[.65,.55,.4,.25,.1,-.05,-.2,-.35,-.42,-.5,-.6,-.7,-.75,-.8,-.78],
[.75,.7,.6,.5,.35,.15,-.1,-.3,-.4,-.5,-.55,-.6,-.7,-.85,-.98],
[.8,.8,.7,.55,.35,.1,-.15,-.3,-.22,-.2,-.3,-.45,-.65,-.75,-.8],
[.9,.85,.75,.6,.4,.15,-.05,-.25,-.4,-.5,-.6,-.62,-.55,-.5,-.45],
[.8,.75,.65,.45,.25,.05,-.2,-.3,-.4,-.45,-.5,-.55,-.6,-.6,-.6]];
const f1YTicks=[-1,-.5,0,.5,1];
const f2Main=[.46,.45,.42,.37,.31,.235,.16,.04,-.155,-.33,-.45,-.52,-.56,-.56,-.53];
const f2Faint=[
[-.55,-.45,-.35,-.25,-.15,-.05,.03,.07,.08,.12,.25,.45,.65,.9,1.2],
[1.15,.8,.6,.5,.42,.32,.2,.05,-.15,-.35,-.45,-.55,-.65,-.8,-1.05],
[.7,.65,.62,.6,.5,.38,.22,.05,-.2,-.4,-.55,-.6,-.62,-.62,-.55],
[.25,.35,.45,.55,.55,.42,.25,.08,-.2,-.4,-.6,-.75,-.85,-.88,-.85],
[.6,.58,.5,.42,.35,.3,.22,.1,-.1,-.3,-.45,-.6,-.7,-.72,-.75],
[.5,.55,.5,.45,.38,.25,.15,0,-.2,-.35,-.5,-.6,-.65,-.6,-.45],
[.4,.42,.4,.35,.3,.2,.1,-.05,-.2,-.35,-.45,-.55,-.62,-.68,-.78],
[.55,.5,.45,.42,.3,.2,.12,.03,-.2,-.38,-.5,-.65,-.72,-.78,-.85]];
const f2YTicks=[-1,-.5,0,.5,1];
const f3Main=[.37,.38,.38,.37,.35,.32,.25,.15,-.05,-.23,-.38,-.48,-.55,-.59,-.6];
const f3Faint=[
[1.05,.85,.72,.68,.6,.52,.4,.2,-.1,-.35,-.6,-.85,-1.05,-1.25,-1.32],
[-.73,-.68,-.58,-.42,-.25,-.08,.05,.15,.2,.28,.42,.55,.7,.9,1.1],
[.75,.72,.75,.78,.72,.6,.42,.2,-.05,-.3,-.55,-.75,-.85,-.85,-.85],
[.2,.4,.55,.65,.72,.68,.5,.25,-.05,-.3,-.5,-.7,-.85,-.95,-.95],
[.55,.6,.62,.6,.55,.5,.42,.35,.3,.3,.33,.4,.55,.7,.88],
[.7,.65,.6,.55,.5,.5,.48,.35,.05,-.3,-.65,-.95,-1.25,-1.45,-1.72],
[.4,.5,.65,.75,.78,.7,.55,.3,.05,-.15,-.35,-.55,-.65,-.55,-.35],
[.55,.65,.7,.7,.65,.55,.45,.25,-.02,-.25,-.45,-.6,-.62,-.4,.05],
[.9,.75,.65,.6,.55,.52,.45,.3,.1,-.15,-.4,-.65,-.85,-1.05,-1.25],
[.35,.4,.5,.6,.62,.55,.42,.25,.05,-.2,-.42,-.6,-.72,-.8,-.82],
[.5,.52,.5,.42,.3,.15,.02,-.08,-.18,-.3,-.45,-.62,-.8,-.95,-1.1],
[-.72,-.7,-.6,-.45,-.25,-.08,.05,.1,.12,.12,.15,.25,.4,.55,.75],
[.6,.55,.45,.35,.25,.2,.15,.1,.1,.12,.18,.2,.15,.05,-.1],
[.65,.68,.7,.72,.7,.62,.5,.3,.05,-.2,-.45,-.65,-.8,-.88,-.92],
[.3,.3,.28,.2,.1,0,-.05,-.08,-.12,-.25,-.45,-.65,-.82,-.95,-1.1],
[.55,.6,.58,.5,.42,.38,.35,.3,.18,0,-.2,-.42,-.65,-.85,-1.3],
[.72,.7,.68,.62,.55,.45,.3,.12,-.1,-.3,-.5,-.65,-.75,-.78,-.78],
[.45,.52,.6,.62,.6,.52,.4,.2,-.05,-.28,-.5,-.68,-.8,-.9,-1],
[.85,.72,.6,.5,.42,.35,.3,.25,.12,-.05,-.25,-.45,-.55,-.5,-.2]];
const f3YTicks=[-1,0,1];
const f4Main=[.41,.38,.34,.29,.22,.15,.06,-.06,-.18,-.28,-.36,-.4,-.43,-.42,-.37];
const f4Faint=[
[1.15,.85,.65,.55,.45,.32,.18,.02,-.12,-.3,-.45,-.6,-.72,-.85,-1.08],
[-1.25,-.8,-.5,-.25,-.05,.12,.25,.33,.38,.4,.4,.42,.5,.7,1.3],
[-.4,-.58,-.6,-.52,-.35,-.12,.1,.25,.32,.35,.35,.35,.4,.5,1.0],
[.75,.75,.72,.68,.6,.48,.32,.15,-.02,-.2,-.35,-.5,-.65,-.8,-.85],
[.25,.5,.65,.72,.7,.6,.42,.22,0,-.18,-.35,-.5,-.65,-.8,-.95],
[.9,.8,.72,.62,.5,.35,.2,.05,-.1,-.22,-.35,-.5,-.65,-.75,-.8],
[.6,.62,.6,.55,.45,.3,.12,-.08,-.25,-.4,-.55,-.7,-.82,-.95,-1.05],
[.7,.68,.6,.5,.38,.25,.12,.02,-.02,-.02,.05,.15,.25,.35,.4],
[.5,.45,.4,.35,.3,.25,.22,.25,.35,.45,.5,.52,.5,.5,.5],
[-.55,-.6,-.55,-.35,-.1,.15,.32,.4,.38,.25,.05,-.1,-.22,-.3,-.3],
[.4,.45,.5,.5,.42,.3,.15,0,-.15,-.3,-.42,-.55,-.65,-.72,-.8],
[.8,.7,.58,.45,.32,.2,.08,-.05,-.2,-.35,-.5,-.65,-.8,-.95,-1.1],
[.55,.55,.52,.45,.35,.22,.08,-.08,-.22,-.32,-.35,-.3,-.22,-.1,.05],
[.62,.6,.55,.48,.38,.28,.15,.02,-.12,-.28,-.42,-.58,-.72,-.85,-.95],
[.3,.35,.38,.38,.32,.22,.1,-.05,-.2,-.35,-.5,-.62,-.7,-.72,-.7],
[.48,.5,.48,.42,.35,.25,.12,-.02,-.15,-.28,-.35,-.38,-.35,-.28,-.2],
[.68,.62,.55,.48,.4,.3,.18,.05,-.05,-.12,-.15,-.15,-.12,-.05,.1],
[.35,.32,.28,.22,.15,.05,-.05,-.2,-.35,-.5,-.62,-.7,-.78,-.82,-.85],
[.72,.68,.62,.55,.45,.32,.2,.08,-.05,-.18,-.3,-.4,-.5,-.6,-.65],
[.58,.6,.6,.58,.5,.4,.25,.08,-.1,-.28,-.45,-.6,-.72,-.78,-.82]];
const f4YTicks=[-1,-.5,0,.5,1];

/* ---------- Helpers ---------- */
const NS='http://www.w3.org/2000/svg';
function make(tag,parent){const e=document.createElementNS(NS,tag);parent.appendChild(e);return e;}
function put(e,k,v){e.setAttribute(k,v);}
function ell(parent,cx,cy,rx,ry,fill,op){
  const e=make('ellipse',parent);
  put(e,'cx',cx.toFixed(2));put(e,'cy',cy.toFixed(2));put(e,'rx',rx);put(e,'ry',ry);put(e,'fill',fill);
  if(op!==undefined)put(e,'fill-opacity',op);
  return e;
}
function lbl(parent,x,y,str,size,anchor,weight){
  const t=make('text',parent);
  put(t,'x',x.toFixed(2));put(t,'y',y.toFixed(2));put(t,'font-size',size);put(t,'text-anchor',anchor);
  if(weight)put(t,'font-weight',weight);
  t.textContent=str;
  return t;
}
function lerp(a,b,t){return Math.round(a+(b-a)*t);}
function qColor(t){
  const s=[[224,0,16],[176,0,144],[16,0,255]];
  const i=t<.5?0:1,u=t<.5?t*2:(t-.5)*2;
  return 'rgb('+lerp(s[i][0],s[i+1][0],u)+','+lerp(s[i][1],s[i+1][1],u)+','+lerp(s[i][2],s[i+1][2],u)+')';
}

/* ---------- Panel A ---------- */
const axA=v=>366+32*v, ayA=v=>473.5-73.95*v;
const aGroup=document.getElementById('a-points');
function plotA(data,fill,name){
  data.forEach(d=>{
    const c=ell(aGroup,axA(d[0]),ayA(d[1]),5.6,5.1,fill,.58);
    
    
  });
}
plotA(aPurple,'#a54bb5','point-abs-ge-3');
plotA(aBlue,'#6aa8d8','point-abs-2-to-3');
plotA(aOlive,'#8fa424','point-abs-1-to-2');
plotA(aRed,'#e04a4a','point-abs-lt-1');
const aTicks=document.getElementById('a-ticks');
aYTicks.forEach(v=>{
  const t=lbl(aTicks,75.5,ayA(v)+8,String(v),25,'end',700);
  
  
});
aXTicks.forEach(v=>{
  const t=lbl(aTicks,axA(v)-(v<0?2:0)+(v===0?1:0),517,String(v),25,'middle',700);
  
  
});

/* ---------- Panel B ---------- */
const xB=v=>990+549*v, ayB=v=>472.5-68.4*v;
const bGroup=document.getElementById('b-points');
function plotB(data,fill,op,name){
  data.forEach(d=>{
    const c=ell(bGroup,xB(d[0]),ayB(d[1]),6,4.6,fill,op);
    
    
  });
}
plotB(bBlack,'#111',.72,'point-not-significant');
plotB(bBlue,'#1414ff',.6,'point-down');
plotB(bRed,'#dd2222',.6,'point-up');
const bTicks=document.getElementById('b-ticks');
bYTicks.forEach(v=>{
  const t=lbl(bTicks,737,ayB(v)+8.5,String(v),26,'end',700);
  
  
});
bXTicks.forEach(v=>{
  const t=lbl(bTicks,xB(v)-(v<0?6:(v>0?2:0)),516,String(v),27,'middle',700);
  
  
});

/* ---------- Panel D ---------- */
const xD=v=>348+(v-.1)*1016, yD=i=>589.5+57*i, diaD=c=>8+21*Math.sqrt((c-5)/10);
const dGroup=document.getElementById('d-marks');
dCategories.forEach((cat,i)=>{
  const dia=diaD(dCount[i]);
  const c=ell(dGroup,xD(dRatio[i]),yD(i),(dia/2).toFixed(2),(dia/2*1.12).toFixed(2),qColor(dQ[i]/.0295));
  
  
  const tick=make('line',dGroup);
  put(tick,'x1',268);put(tick,'x2',271);put(tick,'y1',yD(i));put(tick,'y2',yD(i));put(tick,'stroke','#222');put(tick,'stroke-width',1.5);
  
  
});
dXTicks.forEach(v=>{
  const t=lbl(dGroup,xD(v),1208,v.toFixed(1),20,'middle',700);
  
  
});

/* ---------- Panel E ---------- */
const xE=v=>837+(v-.05)*1228, yE=i=>576.4+54.2*i, diaE=c=>4.5*Math.sqrt(c);
const eGroup=document.getElementById('e-marks');
eCategories.forEach((cat,i)=>{
  const r=diaE(eCount[i])/2;
  const c=ell(eGroup,xE(eRatio[i]),yE(i),r.toFixed(2),r.toFixed(2),qColor(eQ[i]/.0439));
  
  
  const tick=make('line',eGroup);
  put(tick,'x1',813);put(tick,'x2',816.5);put(tick,'y1',yE(i));put(tick,'y2',yE(i));put(tick,'stroke','#222');put(tick,'stroke-width',1.5);
  
  
});
eXTicks.forEach(v=>{
  const t=lbl(eGroup,xE(v),1219,v.toFixed(2),18,'middle',700);
  
  
});
eSizeLegend.forEach((c,i)=>{
  const r=diaE(c)/2;
  const yy=933.6+21.2*i;
  const e=ell(eGroup,1091.4,yy,r.toFixed(2),(r*.95).toFixed(2),'#000');
  
  
  const t=lbl(eGroup,1109.6,yy+3.2,String(c),14,'start');
  
  
});

/* ---------- Panel F ---------- */
function curvePath(xs,ys){
  let d='M'+xs[0].toFixed(1)+' '+ys[0].toFixed(1);
  for(let i=0;i<xs.length-1;i++){
    const p0=Math.max(i-1,0),p3=Math.min(i+2,xs.length-1);
    const c1x=xs[i]+(xs[i+1]-xs[p0])/6,c1y=ys[i]+(ys[i+1]-ys[p0])/6;
    const c2x=xs[i+1]-(xs[p3]-xs[i])/6,c2y=ys[i+1]-(ys[p3]-ys[i])/6;
    d+='C'+c1x.toFixed(1)+' '+c1y.toFixed(1)+' '+c2x.toFixed(1)+' '+c2y.toFixed(1)+' '+xs[i+1].toFixed(1)+' '+ys[i+1].toFixed(1);
  }
  return d;
}
const fRoot=document.getElementById('f-plots');
function drawTrajectory(o){
  const g=make('g',fRoot);
  
  
  const fx=a=>o.x0+(a-20)*o.xs, fy=v=>o.y0-v*o.ys;
  const xsPx=fAges.map(fx);
  o.faint.forEach(series=>{
    const p=make('path',g);
    put(p,'d',curvePath(xsPx,series.map(fy)));put(p,'fill','none');put(p,'stroke',o.faintColor);put(p,'stroke-width',3.5);put(p,'stroke-opacity',o.faintOp);
    
    
  });
  const m=make('path',g);
  put(m,'d',curvePath(xsPx,o.main.map(fy)));put(m,'fill','none');put(m,'stroke',o.color);put(m,'stroke-width',8);
  
  
  const fr=make('rect',g);
  put(fr,'x',o.l);put(fr,'y',o.t);put(fr,'width',o.r-o.l);put(fr,'height',o.b-o.t);put(fr,'fill','none');put(fr,'stroke','#444');put(fr,'stroke-width',1.5);
  
  
  const la=make('line',g);
  put(la,'x1',o.l);put(la,'x2',o.l);put(la,'y1',o.t);put(la,'y2',o.b);put(la,'stroke','#111');put(la,'stroke-width',2.5);
  
  
  const ba=make('line',g);
  put(ba,'x1',o.l);put(ba,'x2',o.r);put(ba,'y1',o.b);put(ba,'y2',o.b);put(ba,'stroke','#111');put(ba,'stroke-width',2.5);
  
  
  o.yTicks.forEach(v=>{
    const tm=make('line',g);
    put(tm,'x1',o.l-3);put(tm,'x2',o.l);put(tm,'y1',fy(v));put(tm,'y2',fy(v));put(tm,'stroke','#222');put(tm,'stroke-width',1.5);
    
    
    const s=o.yFixed?v.toFixed(1):String(v);
    const t=lbl(g,o.yLabelRight,fy(v)+7.5,s,o.yFont,'end',700);
    
    
  });
  fXTicks.forEach(a=>{
    const tm=make('line',g);
    put(tm,'x1',fx(a));put(tm,'x2',fx(a));put(tm,'y1',o.b);put(tm,'y2',o.b+4);put(tm,'stroke','#222');put(tm,'stroke-width',1.5);
    
    
    if(o.xLabelY){
      const t=lbl(g,fx(a)+o.xLabelOff,o.xLabelY,String(a),25,'middle',700);
      
      
    }
  });
}
drawTrajectory({name:'trajectory-oxidative-stress',l:1209,r:1466,t:612.5,b:840,x0:1223.8,xs:3.25,y0:722.8,ys:109,main:f1Main,faint:f1Faint,color:'#cfa2b0',faintColor:'#dcbcc8',faintOp:.12,yTicks:f1YTicks,yFixed:true,yFont:22,yLabelRight:1205.5});
drawTrajectory({name:'trajectory-lysosome',l:1511,r:1769,t:613,b:841,x0:1527,xs:3.25,y0:734,ys:92,main:f2Main,faint:f2Faint,color:'#eac9dd',faintColor:'#eed6e4',faintOp:.16,yTicks:f2YTicks,yFixed:true,yFont:22,yLabelRight:1508.5});
drawTrajectory({name:'trajectory-extracellular-matrix',l:1202.5,r:1471,t:916,b:1144,x0:1218.6,xs:3.35,y0:1006.5,ys:72.7,main:f3Main,faint:f3Faint,color:'#86c1b4',faintColor:'#a9d8cd',faintOp:.16,yTicks:f3YTicks,yFixed:false,yFont:24,yLabelRight:1192,xLabelY:1167.4,xLabelOff:0});
drawTrajectory({name:'trajectory-neutrophil-degranulation',l:1509,r:1767.6,t:917,b:1145,x0:1523.7,xs:3.28,y0:1033.8,ys:80,main:f4Main,faint:f4Faint,color:'#d8d6c5',faintColor:'#dfddcf',faintOp:.18,yTicks:f4YTicks,yFixed:true,yFont:22,yLabelRight:1507,xLabelY:1173,xLabelOff:4});
</script>
</body>
</html>
